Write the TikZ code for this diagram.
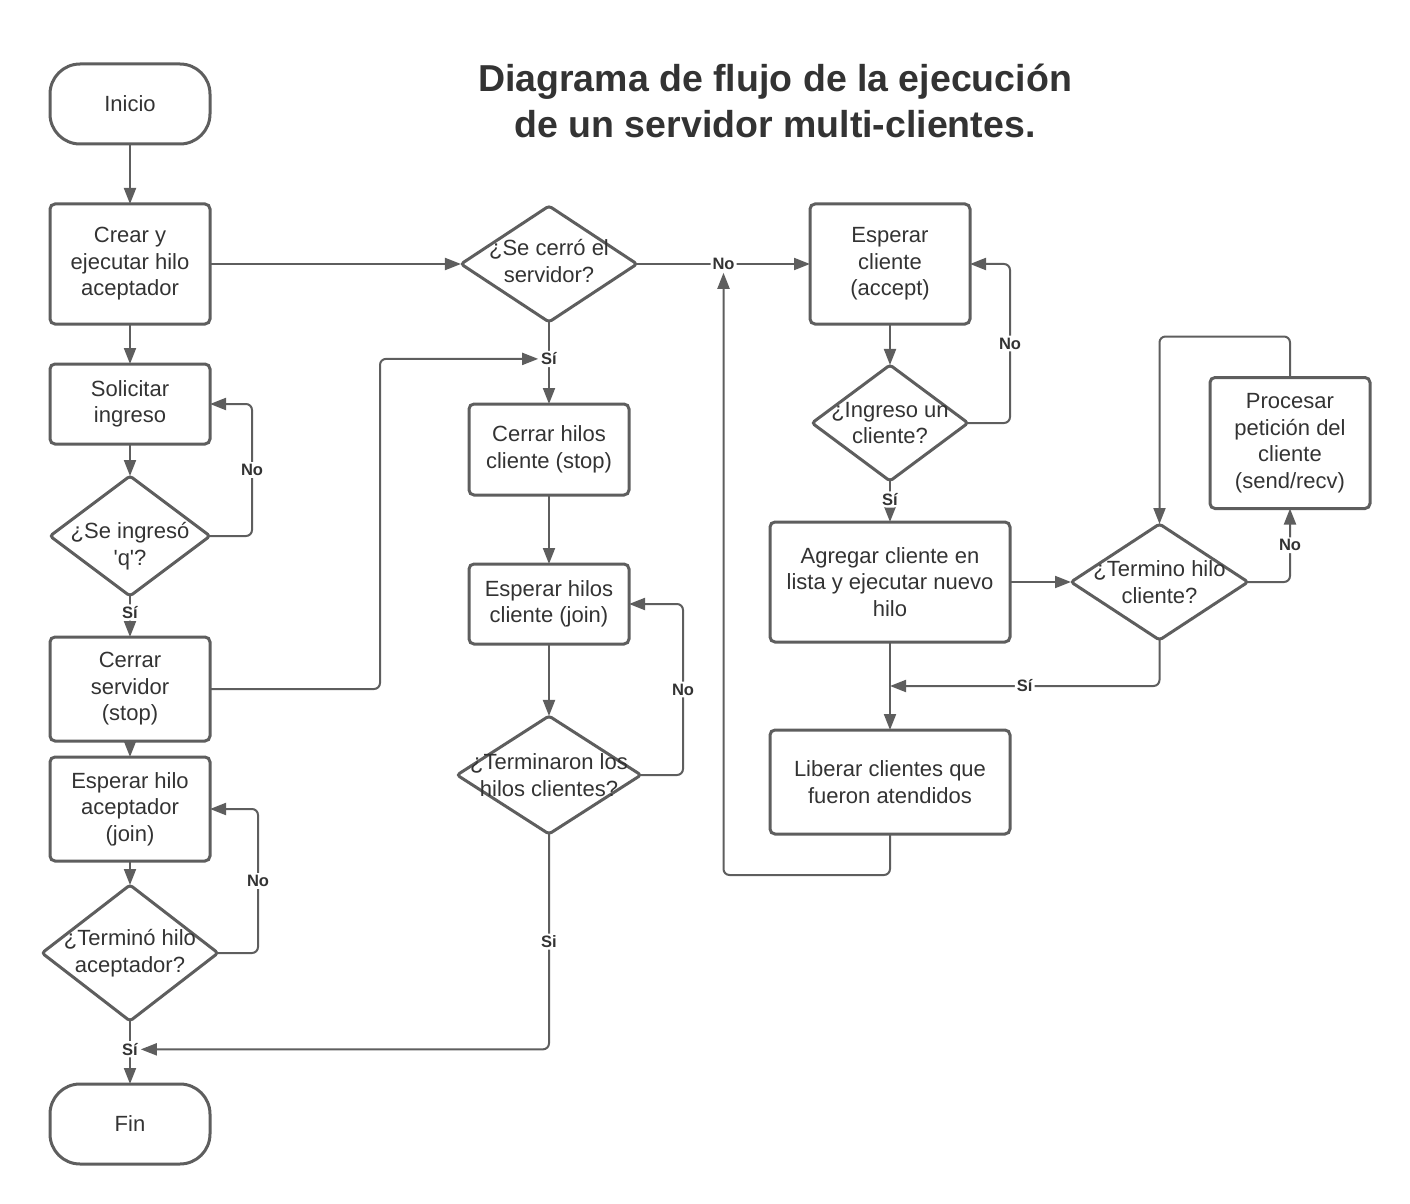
\documentclass[tikz,border=0pt]{standalone}
\usepackage{fontspec}
\setmainfont{Liberation Sans}
\usetikzlibrary{positioning,arrows.meta,shapes.geometric,calc}
\definecolor{linegray}{HTML}{5E5E5E}
\definecolor{textgray}{HTML}{333333}

\begin{document}
\begin{tikzpicture}[
    font=\fontsize{11}{13.25}\selectfont,
    text=textgray,
    process/.style={draw=linegray, line width=1.5pt, rounded corners=2.5pt, align=center, minimum width=80pt, inner sep=0pt, outer sep=0pt},
    terminal/.style={draw=linegray, line width=1.5pt, rounded corners=15pt, minimum width=80pt, minimum height=40pt, outer sep=0pt},
    decision/.style={diamond, draw=linegray, line width=1.5pt, rounded corners=1.5pt, inner sep=0pt, outer sep=0pt},
    dtext/.style={align=center, font=\fontsize{11}{13.25}\selectfont, text=textgray},
    line/.style={-{Triangle[length=8pt,width=6pt]}, draw=linegray, line width=1pt, rounded corners=3pt},
    lbl/.style={font=\bfseries\fontsize{8.25}{9}\selectfont, fill=white, inner sep=1pt, text=textgray}
]
\useasboundingbox (0,0) rectangle (705pt,-602pt);

\node[font=\bfseries\fontsize{18.75}{23}\selectfont, align=center] (titulo) at (387.5pt,-50.5pt) {Diagrama de flujo de la ejecución\\de un servidor multi-clientes.};

% hilo principal
\node[terminal] (inicio) at (65pt,-52pt) {Inicio};
\node[process, minimum height=60pt, below=30pt of inicio] (crear) {Crear y\\ejecutar hilo\\aceptador};
\node[process, minimum height=40pt, below=20pt of crear] (solicitar) {Solicitar\\ingreso};
\node[decision, minimum width=80pt, minimum height=60pt, below=16pt of solicitar,
      label={[dtext, yshift=-5pt]center:¿Se ingresó\\\textquotesingle q\textquotesingle?}] (salir) {};
\node[process, minimum height=52pt, below=20.5pt of salir] (cerrarsrv) {Cerrar\\servidor\\(stop)};
\node[process, minimum height=52pt, below=8pt of cerrarsrv] (esperaracep) {Esperar hilo\\aceptador\\(join)};
\node[decision, minimum width=88pt, minimum height=68pt, below=12pt of esperaracep,
      label={[dtext]center:¿Terminó hilo\\aceptador?}] (terminoacep) {};
\node[terminal, below=31.5pt of terminoacep] (fin) {Fin};

% hilo aceptador
\node[decision, minimum width=88pt, minimum height=58pt, right=125.5pt of crear,
      label={[dtext, yshift=1.5pt]center:¿Se cerró el\\servidor?}] (cerro) {};
\node[process, minimum height=45.5pt, below=41pt of cerro] (cerrarhilos) {Cerrar hilos\\cliente (stop)};
\node[process, minimum height=40pt, below=34.5pt of cerrarhilos] (esperarhilos) {Esperar hilos\\cliente (join)};
\node[decision, minimum width=92pt, minimum height=59pt, below=36pt of esperarhilos,
      label={[dtext]center:¿Terminaron los\\hilos clientes?}] (terminaron) {};

\node[process, minimum height=60pt, right=86.5pt of cerro] (esperarcli) {Esperar\\cliente\\(accept)};
\node[decision, minimum width=78pt, minimum height=58pt, below=20.5pt of esperarcli,
      label={[dtext]center:¿Ingreso un\\cliente?}] (ingreso) {};
\node[process, minimum width=120pt, minimum height=60pt, below=20.5pt of ingreso] (agregar) {Agregar cliente en\\lista y ejecutar nuevo\\hilo};
\node[process, minimum width=120pt, minimum height=52pt, below=44pt of agregar] (liberar) {Liberar clientes que\\fueron atendidos};

% hilo cliente
\node[decision, minimum width=88.5pt, minimum height=58pt, right=30.5pt of agregar,
      label={[dtext]center:¿Termino hilo\\cliente?}] (terminocli) {};
\node[process, minimum height=65.5pt] (procesar) at (645pt,-221.5pt) {Procesar\\petición del\\cliente\\(send/recv)};
\coordinate (union) at ($(agregar.south)!0.5!(liberar.north)$);

\draw[line] (inicio) -- (crear);
\draw[line] (crear) -- (solicitar);
\draw[line] (crear) -- (cerro);
\draw[line] (solicitar) -- (salir);
\draw[line] (salir) -- node[lbl, pos=0.4] {Sí} (cerrarsrv);
\draw[line] (salir.east) -- ++(21pt,0) |- node[lbl, pos=0.25] {No} (solicitar.east);
\draw[line] (cerrarsrv) -- (esperaracep);
\draw[line] (esperaracep) -- (terminoacep);
\draw[line] (terminoacep.east) -- ++(20pt,0) |- node[lbl, pos=0.25] {No} (esperaracep.east);
\draw[line] (terminoacep) -- node[lbl, pos=0.45] (sifin) {Sí} (fin);

\draw[line] (cerro) -- node[lbl, pos=0.45] (sicerro) {Sí} (cerrarhilos);
\draw[line] (cerrarsrv.east) -- ++(85pt,0) |- (sicerro.west);
\draw[line] (cerrarhilos) -- (esperarhilos);
\draw[line] (esperarhilos) -- (terminaron);
\draw[line] (terminaron.east) -- ++(21pt,0) |- node[lbl, pos=0.25] {No} (esperarhilos.east);
\draw[line] (terminaron.south) |- node[lbl, pos=0.25] {Si} (sifin.east);

\draw[line] (cerro) -- node[lbl] (nocerro) {No} (esperarcli);
\draw[line] (esperarcli) -- (ingreso);
\draw[line] (ingreso.east) -- ++(21pt,0) |- node[lbl, pos=0.25] {No} (esperarcli.east);
\draw[line] (ingreso) -- node[lbl, pos=0.45] {Sí} (agregar);
\draw[line] (agregar) -- (terminocli);
\draw[line] (agregar) -- (liberar);
\draw[line] (terminocli.east) -| node[lbl, pos=0.75] {No} (procesar.south);
\draw[line] (procesar.north) -- ++(0,20.5pt) -| (terminocli.north);
\draw[line] (terminocli.south) |- node[lbl, pos=0.75] {Sí} (union);
\draw[line] (liberar.south) -- ++(0,-20.5pt) -| (nocerro.south);
\end{tikzpicture}
\end{document}
